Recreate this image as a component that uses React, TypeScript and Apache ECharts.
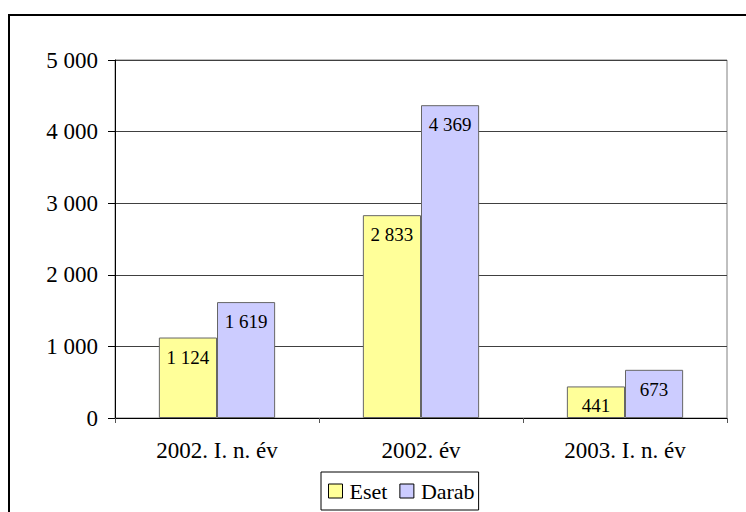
import React, { useEffect, useRef } from "react";
import * as echarts from "echarts";

const categories = ["2002. I. n. év", "2002. év", "2003. I. n. év"];
const esetValues = [1124, 2833, 441];
const darabValues = [1619, 4369, 673];
const seriesNames = ["Eset", "Darab"];

const fmt = (v: number) => String(v).replace(/\B(?=(\d{3})+(?!\d))/g, " ");
const FONT = "Liberation Serif";

export default function App() {
  const ref = useRef<HTMLDivElement>(null);
  useEffect(() => {
    if (!ref.current) return;
    const chart = echarts.init(ref.current, null, { renderer: "svg" });
    const labelCfg = {
      show: true,
      position: "insideTop" as const,
      distance: 10,
      formatter: (p: any) => fmt(p.value),
      color: "#000",
      fontSize: 19,
      fontFamily: FONT,
      textBorderWidth: 0,
      textBorderColor: "transparent",
    };
    chart.setOption({
      animation: false,
      backgroundColor: "#fff",
      textStyle: { fontFamily: FONT },
      graphic: [
        {
          type: "rect",
          z: -10,
          shape: { x: 9, y: 15, width: 760, height: 520 },
          style: { fill: "none", stroke: "#000", lineWidth: 2 },
        },
      ],
      grid: {
        left: 115,
        top: 60,
        right: 19,
        bottom: 94,
        show: true,
        borderColor: "#808080",
        borderWidth: 1,
        backgroundColor: "transparent",
      },
      legend: {
        left: 321,
        top: 472,
        orient: "horizontal",
        borderColor: "#000",
        borderWidth: 1,
        padding: [8, 4, 8, 7],
        itemWidth: 14,
        itemHeight: 14,
        itemGap: 12,
        icon: "rect",
        itemStyle: { borderColor: "#000", borderWidth: 1 },
        textStyle: {
          fontSize: 22,
          fontFamily: FONT,
          color: "#000",
          textBorderWidth: 0,
          padding: [0, 0, 0, 2],
        },
        data: seriesNames,
      },
      xAxis: {
        type: "category",
        data: categories,
        axisLine: { show: true, lineStyle: { color: "#000", width: 1 } },
        axisTick: { show: true, length: 5, lineStyle: { color: "#555" } },
        axisLabel: { fontSize: 23, fontFamily: FONT, color: "#000", margin: 21 },
        splitLine: { show: false },
      },
      yAxis: {
        type: "value",
        min: 0,
        max: 5000,
        interval: 1000,
        axisLine: { show: true, lineStyle: { color: "#000", width: 1 } },
        axisTick: { show: true, length: 7, lineStyle: { color: "#000" } },
        axisLabel: {
          fontSize: 23,
          fontFamily: FONT,
          color: "#000",
          margin: 17,
          formatter: (v: number) => fmt(v),
        },
        splitLine: { show: true, lineStyle: { color: "#404040", width: 1 } },
      },
      series: [
        {
          name: seriesNames[0],
          type: "bar",
          data: esetValues,
          barGap: "0%",
          barCategoryGap: "43%",
          itemStyle: { color: "#FFFF99", borderColor: "#666", borderWidth: 1 },
          label: labelCfg,
        },
        {
          name: seriesNames[1],
          type: "bar",
          data: darabValues,
          barGap: "0%",
          barCategoryGap: "43%",
          itemStyle: { color: "#CCCCFF", borderColor: "#666", borderWidth: 1 },
          label: labelCfg,
        },
      ],
    });
    return () => chart.dispose();
  }, []);
  return (
    <div
      ref={ref}
      style={{ position: "fixed", left: 0, top: 0, width: 746, height: 512 }}
    />
  );
}
